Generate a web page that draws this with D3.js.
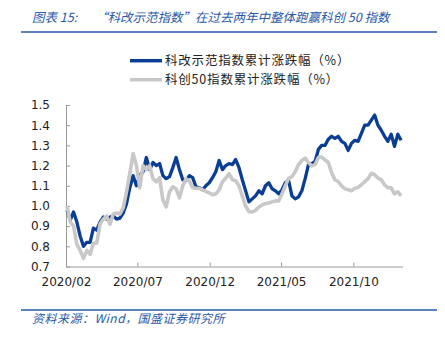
<!DOCTYPE html>
<html><head><meta charset="utf-8">
<script src="https://cdn.jsdelivr.net/npm/d3@7"></script>
<style>
body{margin:0;background:#fff;}
svg{display:block;}
</style></head>
<body><svg id="c" width="445" height="339"></svg>
<script>
const titleLabel = "图表 15:";
const titleText = "“科改示范指数”在过去两年中整体跑赢科创 50 指数";
const sourceText = "资料来源：Wind，国盛证券研究所";
const seriesNames = ["科改示范指数累计涨跌幅（%）", "科创50指数累计涨跌幅（%）"];
const startWeek = "2020-02-03";
const yTicks = [0.7,0.8,0.9,1.0,1.1,1.2,1.3,1.4,1.5];
const xTickLabels = ["2020/02","2020/07","2020/12","2021/05","2021/10"];
const blueValues = [0.98,0.93,0.97,0.92,0.85,0.80,0.82,0.82,0.89,0.88,
0.92,0.945,0.935,0.945,0.95,0.935,0.94,0.965,1.01,1.09,
1.15,1.10,1.15,1.17,1.24,1.18,1.215,1.20,1.21,1.15,
1.135,1.145,1.19,1.24,1.18,1.13,1.125,1.15,1.14,1.095,
1.09,1.08,1.10,1.115,1.14,1.17,1.225,1.18,1.20,1.21,
1.205,1.23,1.19,1.13,1.075,1.02,1.035,1.05,1.075,1.06,
1.10,1.115,1.085,1.075,1.06,1.08,1.115,1.125,1.05,1.035,
1.045,1.075,1.135,1.205,1.21,1.22,1.28,1.30,1.30,1.33,
1.345,1.335,1.345,1.32,1.31,1.275,1.31,1.325,1.32,1.36,
1.40,1.40,1.425,1.45,1.40,1.375,1.345,1.32,1.355,1.295,
1.355,1.325];
const grayValues = [1.0,0.92,0.90,0.81,0.78,0.74,0.78,0.76,0.815,0.815,
0.91,0.935,0.95,0.91,0.96,0.965,0.96,0.99,1.07,1.16,
1.26,1.20,1.09,1.20,1.18,1.20,1.135,1.12,1.14,1.03,
0.995,1.07,1.095,1.085,1.04,1.10,1.135,1.125,1.09,1.088,
1.087,1.08,1.072,1.065,1.055,1.06,1.08,1.12,1.137,1.16,
1.13,1.125,1.10,1.05,1.00,0.972,0.97,0.978,0.995,1.005,
1.012,1.015,1.02,1.025,1.025,1.06,1.10,1.137,1.145,1.17,
1.205,1.225,1.237,1.215,1.198,1.205,1.24,1.242,1.228,1.215,
1.165,1.13,1.12,1.10,1.085,1.08,1.075,1.087,1.092,1.105,
1.12,1.135,1.162,1.155,1.138,1.13,1.105,1.09,1.09,1.06,
1.07,1.05];

const parse = d3.timeParse("%Y-%m-%d");
const dates = blueValues.map((_, i) => d3.timeWeek.offset(parse(startWeek), i));
const svg = d3.select("#c");
const blue = "#0a3d94", gray = "#c8c8c8", accent = "#2a5aa8";

const x = d3.scaleTime().domain([new Date(2020,1,1), new Date(2022,0,14)]).range([66, 403]);
const y = d3.scaleLinear().domain([0.7, 1.5]).range([266.5, 105]);

// title
const t = svg.append("text").attr("y", 22)
  .attr("font-family", "Noto Sans CJK SC").attr("font-size", 12.5).attr("font-style", "italic")
  .attr("fill", accent);
t.append("tspan").attr("x", 32).text(titleLabel);
t.append("tspan").attr("x", 95).text(titleText);
svg.append("line").attr("x1", 21).attr("x2", 437).attr("y1", 32).attr("y2", 32)
  .attr("stroke", accent).attr("stroke-width", 1.6);

// legend
const leg = svg.append("g");
[[blue, 60.7], [gray, 79.7]].forEach((d, i) => {
  leg.append("line").attr("x1", 130).attr("x2", 162).attr("y1", d[1]).attr("y2", d[1])
    .attr("stroke", d[0]).attr("stroke-width", 3.5);
  leg.append("text").attr("x", 165).attr("y", d[1]).attr("dy", "0.36em").text(seriesNames[i])
    .attr("font-family", "Noto Sans CJK SC").attr("font-size", 12.5).attr("letter-spacing", 0.8).attr("fill", "#222");
});

// axes
const yAxis = d3.axisLeft(y).tickValues(yTicks).tickFormat(d3.format(".1f")).tickSize(-4).tickPadding(16);
const gy = svg.append("g").attr("transform", "translate(66,0)").call(yAxis);
const xTickDates = xTickLabels.map(s => d3.timeParse("%Y/%m")(s));
const xAxis = d3.axisBottom(x).tickValues(xTickDates).tickFormat(d3.timeFormat("%Y/%m")).tickSize(-4).tickPadding(11);
const gx = svg.append("g").attr("transform", "translate(0,266.5)").call(xAxis);
[gy, gx].forEach(g => {
  g.select(".domain").attr("stroke", "#9a9a9a").attr("stroke-width", 1);
  g.selectAll(".tick line").attr("stroke", "#9a9a9a");
  g.selectAll("text").attr("font-family", "DejaVu Sans").attr("font-size", 12).attr("fill", "#222");
});
gx.select(".domain").attr("d", `M66,0.5H403`);
gy.select(".domain").attr("d", `M0.5,${y(1.5)}V${y(0.7)}`);

// lines
const line = d3.line().x((d, i) => x(dates[i])).y(d => y(d)).curve(d3.curveLinear);
svg.append("path").datum(blueValues).attr("d", line).attr("fill", "none")
  .attr("stroke", blue).attr("stroke-width", 3.3).attr("stroke-linejoin", "round");
svg.append("path").datum(grayValues).attr("d", line).attr("fill", "none")
  .attr("stroke", gray).attr("stroke-width", 3.6).attr("stroke-linejoin", "round");

// source
svg.append("line").attr("x1", 21).attr("x2", 437).attr("y1", 310).attr("y2", 310)
  .attr("stroke", accent).attr("stroke-width", 1.6);
svg.append("text").attr("x", 32).attr("y", 323).text(sourceText)
  .attr("font-family", "Noto Sans CJK SC").attr("font-size", 12).attr("letter-spacing", 0.5).attr("font-style", "italic")
  .attr("fill", accent);
</script></body></html>
